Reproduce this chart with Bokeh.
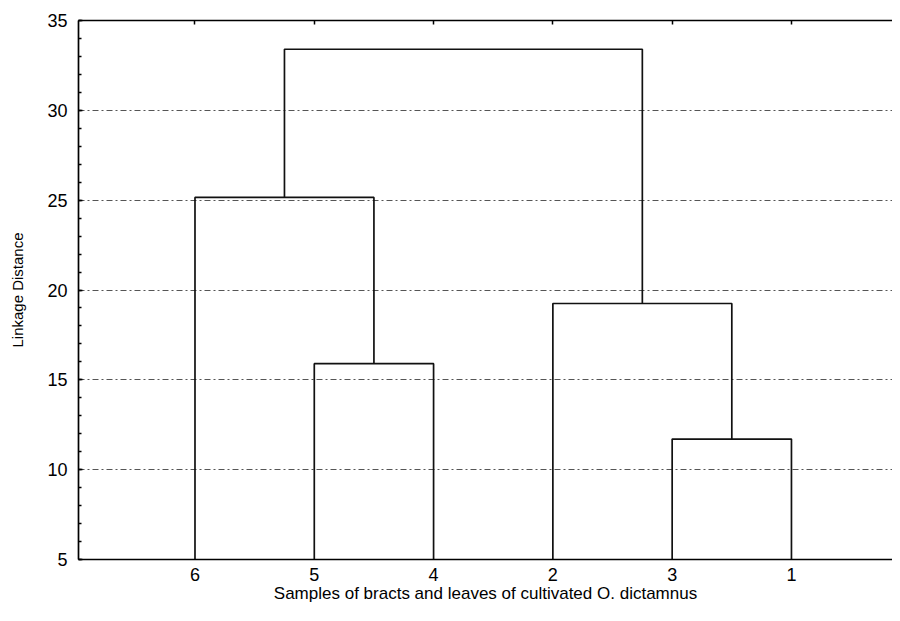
from bokeh.plotting import figure
from bokeh.models import (ColumnDataSource, Range1d, FixedTicker, LinearAxis,
                          CustomLabelingPolicy)
from bokeh.embed import file_html
from bokeh.resources import INLINE

# ---- data ----
leaf_labels = ["6", "5", "4", "2", "3", "1"]          # leaf order along the x axis
merge_left = ["5", "3", "6", "2", "A"]                 # left child of each merge
merge_right = ["4", "1", "C1", "C2", "B"]               # right child of each merge
merge_names = ["C1", "C2", "A", "B", "ROOT"]           # name of each merged cluster
merge_heights = [15.9, 11.7, 25.15, 19.25, 33.4]       # linkage distances
y_ticks = [5, 10, 15, 20, 25, 30, 35]
grid_ticks = [10, 15, 20, 25, 30]
y_base = 5

# ---- build dendrogram segments from data ----
xpos = {lab: i + 1 for i, lab in enumerate(leaf_labels)}
hgt = {lab: y_base for lab in leaf_labels}
xs, ys = [], []
for l, r, n, h in zip(merge_left, merge_right, merge_names, merge_heights):
    xl, xr = xpos[l], xpos[r]
    xs.append([xl, xl, xr, xr])
    ys.append([hgt[l], h, h, hgt[r]])
    xpos[n] = (xl + xr) / 2
    hgt[n] = h

src = ColumnDataSource(dict(xs=xs, ys=ys))

FONT = "Liberation Sans"

p = figure(width=892, height=605, output_backend="svg", toolbar_location=None,
           x_range=Range1d(0.0235, 6.847), y_range=Range1d(5, 35),
           min_border_left=78, min_border_right=0, min_border_top=20,
           min_border_bottom=46)
p.outline_line_color = None
p.background_fill_color = "white"
p.border_fill_color = "white"

p.multi_line(xs="xs", ys="ys", source=src, line_color="#111111", line_width=1.7)

# x axis (bottom)
xax = p.xaxis[0]
xax.ticker = FixedTicker(ticks=list(range(1, len(leaf_labels) + 1)))
xax.major_label_overrides = {i + 1: lab for i, lab in enumerate(leaf_labels)}
xax.axis_label = "Samples of bracts and leaves of cultivated O. dictamnus"
xax.axis_label_text_font = FONT
xax.axis_label_text_font_size = "17px"
xax.axis_label_text_font_style = "normal"
xax.axis_label_text_color = "black"
xax.axis_label_standoff = 0
xax.major_label_text_font = FONT
xax.major_label_text_font_size = "18px"
xax.major_label_text_color = "black"
xax.major_label_standoff = 8
xax.major_tick_in = 0
xax.major_tick_out = 0
xax.minor_tick_line_color = None
xax.axis_line_color = "black"
xax.axis_line_width = 1.7

# top axis (box top with inward ticks, no labels)
no_labels = CustomLabelingPolicy(code="""
    for (const i of Array.from(indices)) { indices.unset(i) }
    return indices
""")
top = LinearAxis(ticker=FixedTicker(ticks=list(range(1, len(leaf_labels) + 1))),
                 major_label_policy=no_labels, major_label_standoff=0,
                 major_tick_in=4, major_tick_out=0, major_tick_line_width=1.5,
                 minor_tick_line_color=None, axis_line_color="black",
                 axis_line_width=1.7)
p.add_layout(top, "above")

# y axis
yax = p.yaxis[0]
yax.ticker = FixedTicker(ticks=y_ticks, minor_ticks=list(range(5, 36)))
yax.axis_label = "Linkage Distance"
yax.axis_label_text_font = FONT
yax.axis_label_text_font_size = "15px"
yax.axis_label_text_font_style = "normal"
yax.axis_label_text_color = "black"
yax.axis_label_standoff = 18
yax.major_label_text_font = FONT
yax.major_label_text_font_size = "18px"
yax.major_label_text_color = "black"
yax.major_label_standoff = 11
yax.major_tick_in = 4
yax.major_tick_out = 0
yax.minor_tick_in = 3
yax.minor_tick_out = 0
yax.major_tick_line_width = 1.3
yax.minor_tick_line_width = 1.3
yax.axis_line_color = "black"
yax.axis_line_width = 1.7

# grid
p.xgrid.grid_line_color = None
p.ygrid.ticker = FixedTicker(ticks=grid_ticks)
p.ygrid.grid_line_color = "#555555"
p.ygrid.grid_line_width = 1
p.ygrid.grid_line_dash = "6 3 2 3"

open("out.html", "w").write(file_html(p, INLINE))
